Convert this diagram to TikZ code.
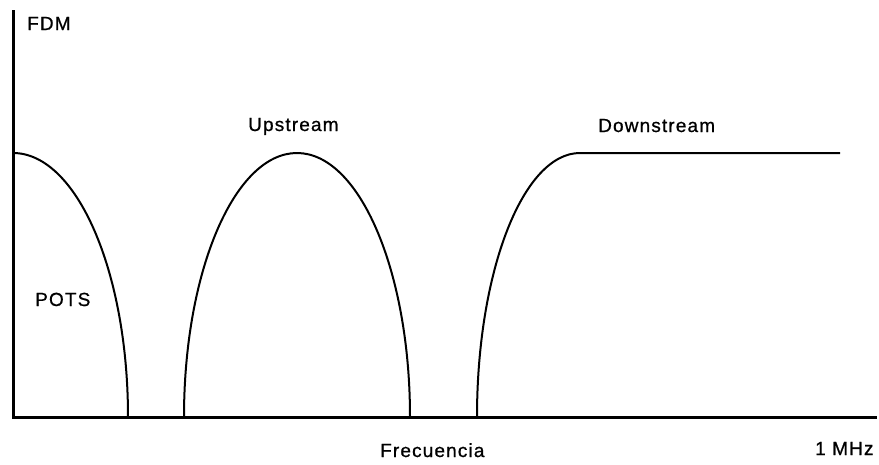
\documentclass[tikz,border=0pt]{standalone}
\usepackage{fontspec}
\setmainfont[LetterSpace=6,FakeBold=0.8]{Liberation Sans}
\usetikzlibrary{positioning}

\tikzset{
    axisline/.style={line width=3pt},
    band/.style={line width=2pt, line join=round},
    lbl/.style={anchor=base west, inner sep=0pt, font=\fontsize{19}{22}\selectfont}
}

\begin{document}
\begin{tikzpicture}[x=1pt, y=1pt]
    \useasboundingbox (0,0) rectangle (879,-464);

    % Axes
    \coordinate (top) at (13,-10);
    \coordinate (O) at (13,-417);
    \coordinate (end) at (877,-417);
    \draw[axisline] (top) -- (O) -- (end);

    % POTS band
    \coordinate (pots) at (13,-153);
    \draw[band] (pots) arc[start angle=90, end angle=0, x radius=115, y radius=264];

    % Upstream band
    \coordinate (up) at (184,-417);
    \draw[band] (up) arc[start angle=180, end angle=0, x radius=113, y radius=264];

    % Downstream band
    \coordinate (down) at (477,-417);
    \coordinate (downend) at (840,-153);
    \draw[band] (down) arc[start angle=180, end angle=90, x radius=103, y radius=264] -- (downend);

    % Labels
    \node[lbl] (fdm) at (27,-30) {FDM};
    \node[lbl] (upstream) at (248,-131) {Upstream};
    \node[lbl] (downstream) at (598,-132) {Downstream};
    \node[lbl] (potslbl) at (35,-306) {POTS};
    \node[lbl] (freq) at (380,-457) {Frecuencia};
    \node[lbl] (mhz) at (815,-455) {1 MHz};
\end{tikzpicture}
\end{document}
